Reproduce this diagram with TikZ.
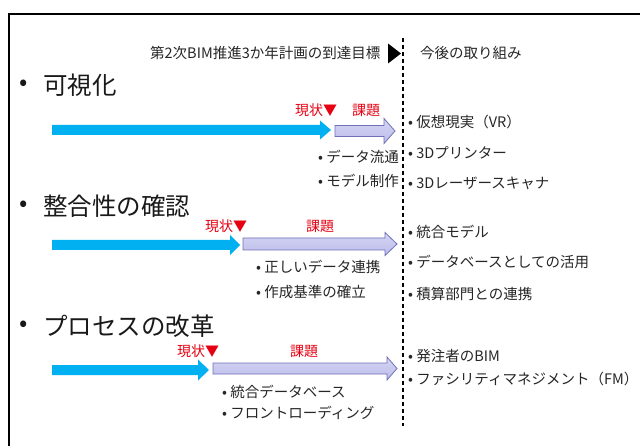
\documentclass[tikz,border=0pt]{standalone}
\usepackage{fontspec}
\setmainfont{Noto Sans CJK JP}
\definecolor{cyanarrow}{HTML}{00B0F0}
\definecolor{lavfill}{HTML}{C4C4F0}
\definecolor{lavdraw}{HTML}{7070B8}
\definecolor{redtxt}{HTML}{E60012}
\newcommand\blkarrow[7]{%
  \draw[#1] (#2,#4-#5) -- (#3-#7,#4-#5) -- (#3-#7,#4-#6) -- (#3,#4)
    -- (#3-#7,#4+#6) -- (#3-#7,#4+#5) -- (#2,#4+#5) -- cycle;}
\tikzset{
  txt/.style={inner sep=0pt, anchor=west, font=\fontsize{14.5}{16}\selectfont, text=black!85},
  title/.style={inner sep=0pt, anchor=west, font=\fontsize{24.5}{28}\selectfont, text=black!90},
  redlbl/.style={inner sep=0pt, anchor=west, font=\fontsize{14}{16}\selectfont, text=redtxt},
  bluearr/.style={fill=cyanarrow, draw=none},
  lavarr/.style={top color=lavfill!70!white, bottom color=lavfill!90!lavdraw, draw=lavdraw, line width=0.8pt},
}
\begin{document}
\begin{tikzpicture}[x=1pt,y=-1pt]
\useasboundingbox (0,0) rectangle (640,446);
\fill[white] (0,0) rectangle (640,446);
% frame
\draw[line width=1.6pt] (9,446) -- (9,14) -- (640,14);
% header
\node[txt] (hdr) at (150,53) {第2次BIM推進3か年計画の到達目標};
\fill (388,43.5) -- (401,53.5) -- (388,63.5) -- cycle;
\node[txt] (fut) at (420,53) {今後の取り組み};
\draw[line width=1.1pt, dash pattern=on 4pt off 3pt] (403,38) -- (403,426);
% row 1
\node[title] (t1b) at (19,85) {•};
\node[title] (t1) at (43,85) {可視化};
\blkarrow{bluearr}{52}{331}{130}{5}{9.5}{11}
\blkarrow{lavarr}{335}{395}{131}{5.5}{12.5}{11}
\node[redlbl] (r1a) at (295,110) {現状▼};
\node[redlbl] (r1b) at (352,110) {課題};
\node[txt] (s1a) at (318,157) {• データ流通};
\node[txt] (s1b) at (318,181) {• モデル制作};
\node[txt] (f1a) at (408,122) {• 仮想現実（VR）};
\node[txt] (f1b) at (408,153) {• 3Dプリンター};
\node[txt] (f1c) at (408,183) {• 3Dレーザースキャナ};
% row 2
\node[title] (t2b) at (19,206) {•};
\node[title] (t2) at (43,206) {整合性の確認};
\blkarrow{bluearr}{52}{240}{245}{5}{10}{10}
\blkarrow{lavarr}{243}{397}{244}{6}{11.5}{12}
\node[redlbl] (r2a) at (205,226) {現状▼};
\node[redlbl] (r2b) at (306,226) {課題};
\node[txt] (s2a) at (256,267) {• 正しいデータ連携};
\node[txt] (s2b) at (256,292) {• 作成基準の確立};
\node[txt] (f2a) at (408,232) {• 統合モデル};
\node[txt] (f2b) at (408,262) {• データベースとしての活用};
\node[txt] (f2c) at (408,294) {• 積算部門との連携};
% row 3
\node[title] (t3b) at (19,326) {•};
\node[title] (t3) at (43,326) {プロセスの改革};
\blkarrow{bluearr}{52}{209}{370}{5}{10.5}{11}
\blkarrow{lavarr}{213}{397}{368.5}{5.5}{11.5}{10}
\node[redlbl] (r3a) at (177,351) {現状▼};
\node[redlbl] (r3b) at (290,351) {課題};
\node[txt] (s3a) at (222,392) {• 統合データベース};
\node[txt] (s3b) at (222,413) {• フロントローディング};
\node[txt] (f3a) at (408,356) {• 発注者のBIM};
\node[txt] (f3b) at (408,379) {• ファシリティマネジメント（FM）};
\end{tikzpicture}
\end{document}
